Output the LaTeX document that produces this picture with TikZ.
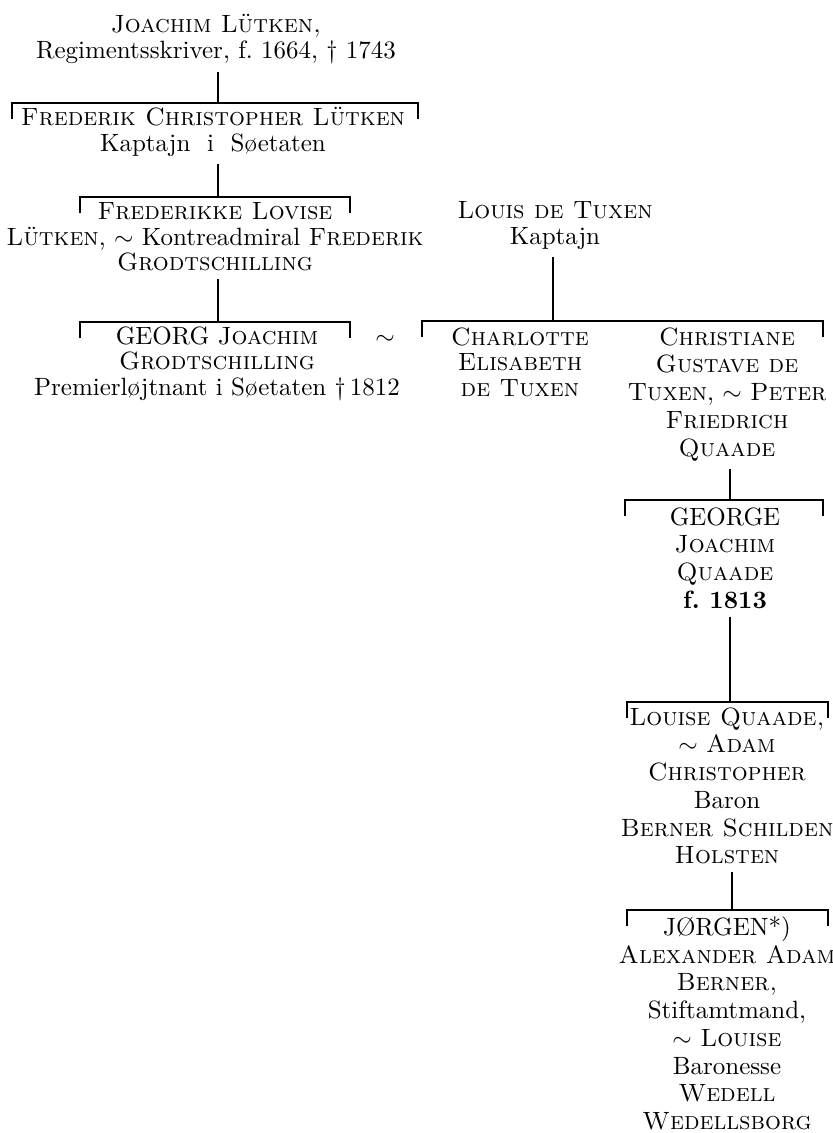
\documentclass[tikz,border=0pt]{standalone}
\usepackage{fontspec}
\usetikzlibrary{calc}
\begin{document}
\begin{tikzpicture}[x=0.4pt,y=-0.4pt,
    person/.style={anchor=north,align=center,inner sep=0pt,font=\fontsize{10}{10.2}\selectfont},
    column/.style={person,font=\fontsize{10}{11.1}\selectfont},
    stem/.style={line width=1pt,shorten <=3pt},
    bracket/.style={line width=1pt}]
\useasboundingbox (0,0) rectangle (833,1133);

\node[person] (joachim) at (216,14) {\textsc{Joachim Lütken,}\\Regimentsskriver, f.~1664, \dag~1743};
\node[person] (frederik) at (213,107) {\textsc{Frederik Christopher Lütken}\\Kaptajn\ \ i\ \ Søetaten};
\node[person] (frederikke) at (215,202) {\textsc{Frederikke Lovise}\\\textsc{Lütken}, $\sim$ Kontreadmiral \textsc{Frederik}\\\textsc{Grodtschilling}};
\node[person] (georg) at (217,326) {GEORG \textsc{Joachim}\\\textsc{Grodtschilling}\\Premierløjtnant i Søetaten \dag\,1812};
\node[person] (tilde) at (385,335) {$\sim$};
\node[person] (louis) at (555,201) {\textsc{Louis de Tuxen}\\Kaptajn};
\node[person] (charlotte) at (520,327) {\textsc{Charlotte}\\\textsc{Elisabeth}\\\textsc{de Tuxen}};
\node[column] (christiane) at (727,327) {\textsc{Christiane}\\\textsc{Gustave de}\\\textsc{Tuxen}, $\sim$ \textsc{Peter}\\\textsc{Friedrich}\\\textsc{Quaade}};
\node[column] (george) at (725,507) {GEORGE\\\textsc{Joachim}\\\textsc{Quaade}\\\textbf{f.~1813}};
\node[column] (louise) at (727,707) {\textsc{Louise Quaade,}\\$\sim$ \textsc{Adam}\\\textsc{Christopher}\\Baron\\\textsc{Berner Schilden}\\\textsc{Holsten}};
\node[column] (jorgen) at (727,916) {JØRGEN*)\\\textsc{Alexander Adam}\\\textsc{Berner,}\\Stiftamtmand,\\$\sim$ \textsc{Louise}\\Baronesse\\\textsc{Wedell}\\\textsc{Wedellsborg}};

\coordinate (b1l) at (12,103);  \coordinate (b1m) at (218,103); \coordinate (b1r) at (418,103);
\coordinate (b2l) at (80,197);  \coordinate (b2m) at (218,197); \coordinate (b2r) at (350,197);
\coordinate (b3l) at (80,322);  \coordinate (b3m) at (218,322); \coordinate (b3r) at (350,322);
\coordinate (b4l) at (422,321); \coordinate (b4m) at (553,321); \coordinate (b4r) at (823,321);
\coordinate (b5l) at (625,500); \coordinate (b5m) at (730,500); \coordinate (b5r) at (823,500);
\coordinate (b6l) at (627,702); \coordinate (b6m) at (730,702); \coordinate (b6r) at (828,702);
\coordinate (b7l) at (627,910); \coordinate (b7m) at (732,910); \coordinate (b7r) at (828,910);

\foreach \b in {b1,b2,b3,b4,b5,b6,b7}
  \draw[bracket] ($(\b l)+(0,16)$) -- (\b l) -- (\b r) -- ($(\b r)+(0,16)$);

\draw[stem] (b1m |- joachim.south) -- (b1m);
\draw[stem] (b2m |- frederik.south) -- (b2m);
\draw[stem] (b3m |- frederikke.south) -- (b3m);
\draw[stem] (b4m |- louis.south) -- (b4m);
\draw[stem] (b5m |- christiane.south) -- (b5m);
\draw[stem] (b6m |- george.south) -- (b6m);
\draw[stem] (b7m |- louise.south) -- (b7m);
\end{tikzpicture}
\end{document}
